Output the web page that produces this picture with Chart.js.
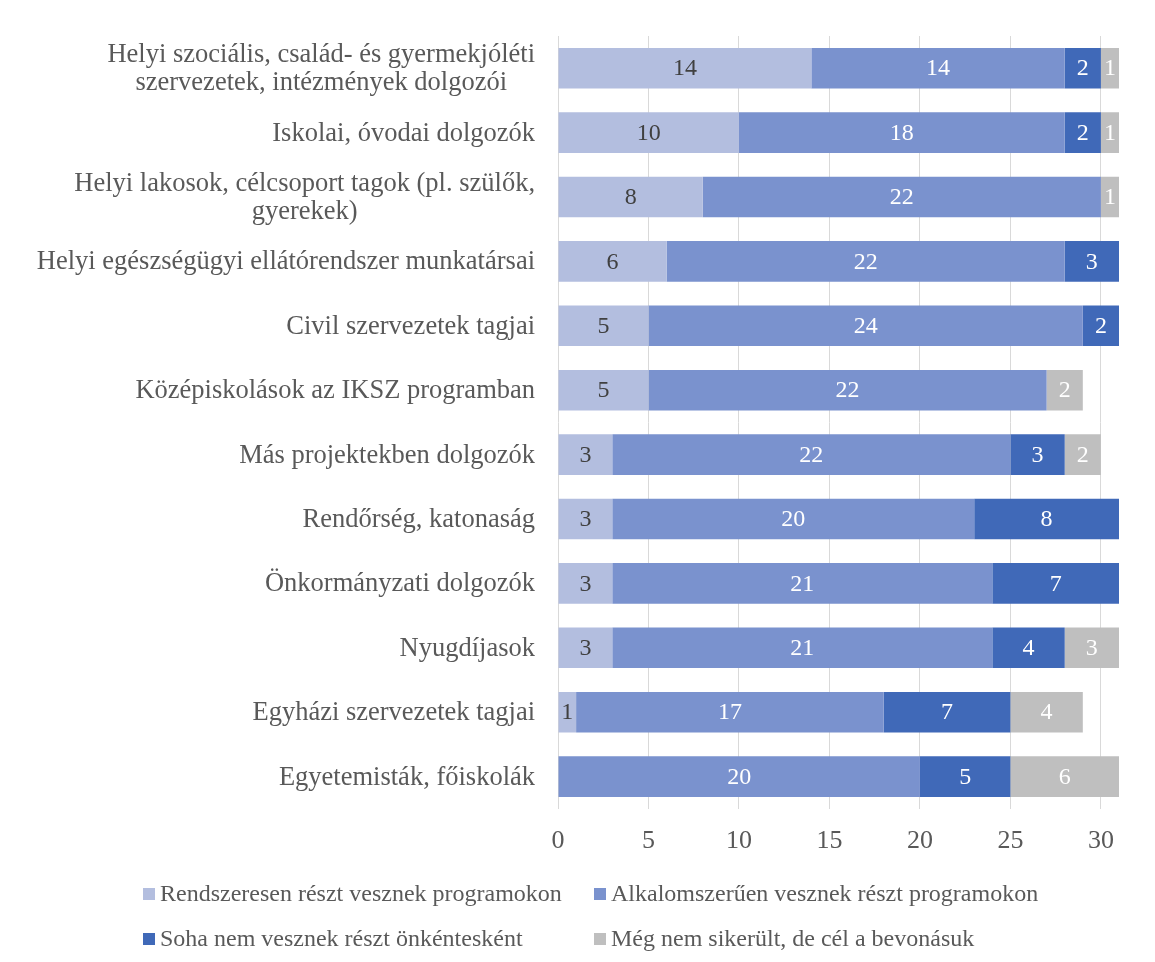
<!DOCTYPE html>
<html>
<head>
<meta charset="utf-8">
<script src="https://cdn.jsdelivr.net/npm/chart.js@4/dist/chart.umd.min.js"></script>
<style>
  html, body { margin: 0; padding: 0; background: #fff; }
  #wrap { position: relative; width: 1155px; height: 962px; }
</style>
</head>
<body>
<div id="wrap">
  <canvas id="c" width="1155" height="962"></canvas>
</div>
<script>
const categories = [
  ["Helyi szociális, család- és gyermekjóléti", "szervezetek, intézmények dolgozói"],
  ["Iskolai, óvodai dolgozók"],
  ["Helyi lakosok, célcsoport tagok (pl. szülők,", "gyerekek)"],
  ["Helyi egészségügyi ellátórendszer munkatársai"],
  ["Civil szervezetek tagjai"],
  ["Középiskolások az IKSZ programban"],
  ["Más projektekben dolgozók"],
  ["Rendőrség, katonaság"],
  ["Önkormányzati dolgozók"],
  ["Nyugdíjasok"],
  ["Egyházi szervezetek tagjai"],
  ["Egyetemisták, főiskolák"]
];
const seriesNames = [
  "Rendszeresen részt vesznek programokon",
  "Alkalomszerűen vesznek részt programokon",
  "Soha nem vesznek részt önkéntesként",
  "Még nem sikerült, de cél a bevonásuk"
];
const regular    = [14, 10, 8, 6, 5, 5, 3, 3, 3, 3, 1, 0];
const occasional = [14, 18, 22, 22, 24, 22, 22, 20, 21, 21, 17, 20];
const never      = [2, 2, 0, 3, 2, 0, 3, 8, 7, 4, 7, 5];
const notYet     = [1, 1, 1, 0, 0, 2, 2, 0, 0, 3, 4, 6];
const xTicks = [0, 5, 10, 15, 20, 25, 30];

const colors = ["#B3BEDF", "#7A92CE", "#4069B8", "#BFBFBF"];
const labelColors = ["#404040", "#FFFFFF", "#FFFFFF", "#FFFFFF"];
const serif = '"Liberation Serif", "Times New Roman", serif';
const textGray = '#595959';

const seriesData = [regular, occasional, never, notYet];
const datasets = seriesData.map((d, i) => ({
  label: seriesNames[i],
  data: d,
  backgroundColor: colors[i],
  borderWidth: 0,
  barPercentage: 0.63,
  categoryPercentage: 1.0
}));

const dataLabels = {
  id: 'dataLabels',
  afterDatasetsDraw(chart) {
    const ctx = chart.ctx;
    ctx.save();
    ctx.font = '24px ' + serif;
    ctx.textAlign = 'center';
    ctx.textBaseline = 'middle';
    chart.data.datasets.forEach((ds, di) => {
      const meta = chart.getDatasetMeta(di);
      meta.data.forEach((el, i) => {
        const v = ds.data[i];
        if (!v) return;
        const p = el.getProps(['x', 'y', 'base'], true);
        ctx.fillStyle = labelColors[di];
        ctx.fillText(String(v), (p.x + p.base) / 2, p.y + 1);
      });
    });
    ctx.restore();
  }
};

const yLabels = {
  id: 'yLabels',
  afterDraw(chart) {
    const ctx = chart.ctx;
    const ys = chart.scales.y;
    const right = chart.chartArea.left - 23;
    ctx.save();
    ctx.font = '26.5px ' + serif;
    ctx.fillStyle = textGray;
    ctx.textBaseline = 'middle';
    ctx.textAlign = 'center';
    categories.forEach((lines, i) => {
      const cy = ys.getPixelForValue(i);
      const w = Math.max(...lines.map(l => ctx.measureText(l).width));
      const cx = right - w / 2;
      const lh = 28;
      const y0 = cy - (lines.length - 1) * lh / 2;
      lines.forEach((l, k) => ctx.fillText(l, cx, y0 + k * lh + 1));
    });
    ctx.restore();
  }
};

const legendPlugin = {
  id: 'gridLegend',
  afterDraw(chart) {
    const ctx = chart.ctx;
    const colX = [143, 594];
    const rowY = [894, 939];
    ctx.save();
    ctx.font = '24px ' + serif;
    ctx.textBaseline = 'middle';
    ctx.textAlign = 'left';
    chart.data.datasets.forEach((ds, i) => {
      const x = colX[i % 2], y = rowY[Math.floor(i / 2)];
      ctx.fillStyle = ds.backgroundColor;
      ctx.fillRect(x, y - 6, 12, 12);
      ctx.fillStyle = textGray;
      ctx.fillText(ds.label, x + 17, y + 1);
    });
    ctx.restore();
  }
};

const chart = new Chart(document.getElementById('c'), {
  type: 'bar',
  data: { labels: categories, datasets },
  options: {
    indexAxis: 'y',
    responsive: false,
    animation: false,
    devicePixelRatio: 1,
    layout: { padding: { top: 36, right: 36, bottom: 88, left: 0 } },
    plugins: { legend: { display: false }, tooltip: { enabled: false } },
    scales: {
      x: {
        stacked: true,
        min: 0, max: 31,
        afterBuildTicks(scale) { scale.ticks = xTicks.map(v => ({ value: v })); },
        ticks: { font: { family: serif, size: 26 }, color: textGray, padding: 17, maxRotation: 0 },
        grid: { color: '#D9D9D9', lineWidth: 1, drawTicks: false },
        border: { display: false }
      },
      y: {
        stacked: true,
        afterFit(scale) { scale.width = 558; },
        ticks: { display: false },
        grid: { display: false },
        border: { display: false }
      }
    }
  },
  plugins: [dataLabels, yLabels, legendPlugin]
});
</script>
</body>
</html>
